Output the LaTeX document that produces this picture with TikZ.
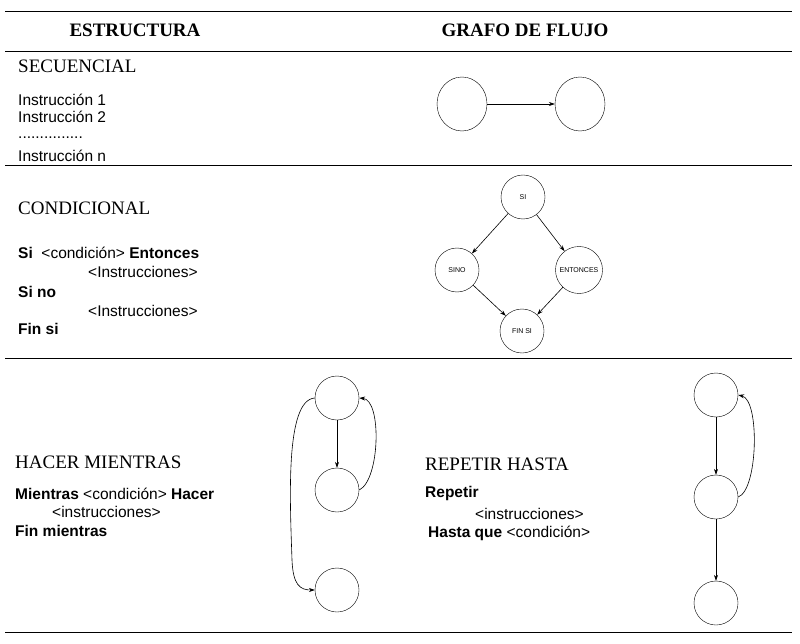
\documentclass[tikz,border=0pt]{standalone}
\usepackage{fontspec}
\setmainfont{Liberation Serif}
\newfontfamily\arial{Liberation Sans}
\usetikzlibrary{arrows.meta,shapes.geometric}
\begin{document}
\begin{tikzpicture}[x=1pt,y=-1pt,
  rule/.style={line width=1pt},
  hd/.style={font=\fontsize{19}{19}\selectfont\bfseries,inner sep=0},
  ttl/.style={font=\fontsize{19}{19}\selectfont,anchor=west,inner sep=0},
  txt/.style={font=\arial\fontsize{15.5}{15.5}\selectfont,anchor=west,inner sep=0},
  nd/.style={draw,circle,minimum size=44pt,inner sep=0,font=\arial\fontsize{7}{7}\selectfont},
  ov/.style={draw,ellipse,minimum width=50pt,minimum height=54pt,inner sep=0},
  ar/.style={-{Stealth[length=6pt,width=4pt]},line width=0.6pt}]
\useasboundingbox (0,0) rectangle (800,644);
\foreach \y in {12,52,166,358,632} \draw[rule] (5,\y) -- (792,\y);
\node[hd] (h1) at (135,30) {ESTRUCTURA};
\node[hd] (h2) at (525,30) {GRAFO DE FLUJO};
% secuencial
\node[ttl] (t1) at (18,66) {SECUENCIAL};
\node[txt] (s1) at (18,100) {Instrucción 1};
\node[txt] (s2) at (18,117) {Instrucción 2};
\node[txt] (s3) at (18,138) {...............};
\node[txt] (s4) at (18,156) {Instrucción n};
\node[ov] (a1) at (462,104) {};
\node[ov] (a2) at (580,104) {};
\draw[ar] (a1) -- (a2);
% condicional
\node[ttl] (t2) at (18,208) {CONDICIONAL};
\node[txt] (c1) at (18,253) {\textbf{Si}\ \ <condición> \textbf{Entonces}};
\node[txt] (c2) at (88,272) {<Instrucciones>};
\node[txt] (c3) at (18,292) {\textbf{Si no}};
\node[txt] (c4) at (88,311) {<Instrucciones>};
\node[txt] (c5) at (18,329) {\textbf{Fin si}};
\node[nd] (si) at (523,197) {SI};
\node[nd] (sino) at (457,270) {SINO};
\node[nd,minimum size=47pt] (ent) at (579,270) {ENTONCES};
\node[nd] (fin) at (522,331) {FIN SI};
\draw[ar] (si) -- (sino);
\draw[ar] (si) -- (ent);
\draw[ar] (sino) -- (fin);
\draw[ar] (ent) -- (fin);
% hacer mientras
\node[ttl] (t3) at (15,462) {HACER MIENTRAS};
\node[txt] (m1) at (15,494) {\textbf{Mientras} <condición> \textbf{Hacer}};
\node[txt] (m2) at (52,512) {<instrucciones>};
\node[txt] (m3) at (15,531) {\textbf{Fin mientras}};
\node[nd] (m_a) at (337,398) {};
\node[nd] (m_b) at (337,490) {};
\node[nd] (m_c) at (337,590) {};
\draw[ar] (m_a) -- (m_b);
\draw[ar] (m_b.east) .. controls (380,480) and (382,400) .. (m_a.east);
\draw[ar] (m_a.west) .. controls (285,400) and (290,500) .. (292,560) .. controls (293,585) and (300,590) .. (m_c.west);
% repetir hasta
\node[ttl] (t4) at (425,464) {REPETIR HASTA};
\node[txt] (r1) at (425,493) {\textbf{Repetir}};
\node[txt] (r2) at (475,514) {<instrucciones>};
\node[txt] (r3) at (428,533) {\textbf{Hasta que} <condición>};
\node[nd] (r_a) at (716,395) {};
\node[nd] (r_b) at (716,497) {};
\node[nd] (r_c) at (716,603) {};
\draw[ar] (r_a) -- (r_b);
\draw[ar] (r_b) -- (r_c);
\draw[ar] (r_b.east) .. controls (758,490) and (760,400) .. (r_a.east);
\end{tikzpicture}
\end{document}
